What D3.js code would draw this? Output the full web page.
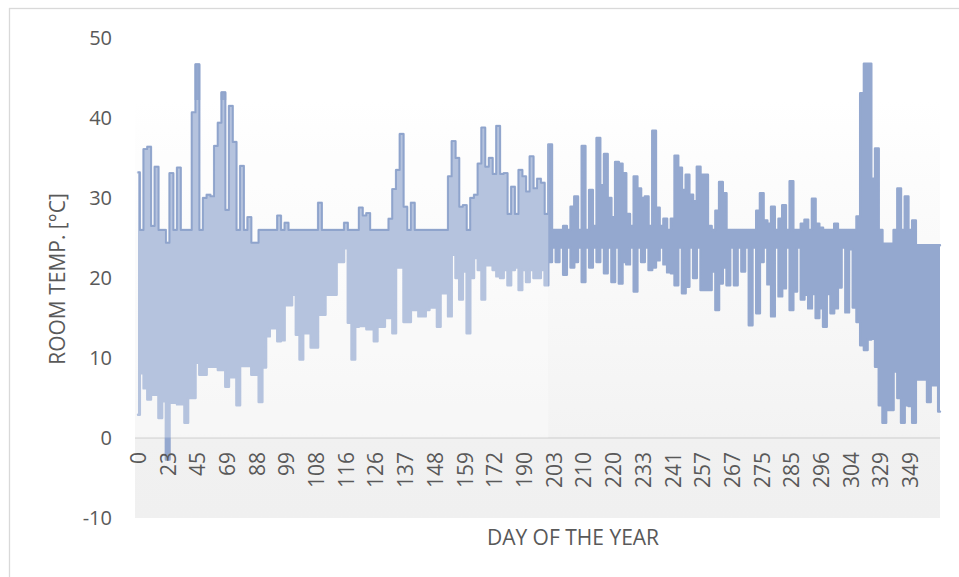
<!DOCTYPE html>
<html>
<head>
<meta charset="utf-8">
<script src="https://cdn.jsdelivr.net/npm/d3@7"></script>
<style>
  body { margin: 0; background: #ffffff; }
  text { font-family: "Open Sans", "Noto Sans", sans-serif; fill: #595959; }
</style>
</head>
<body>
<svg id="chart" width="959" height="577"></svg>
<script>
// Day-of-year labels shown along the category axis (one every `labelEvery` rows)
const dayLabels = [0, 23, 45, 69, 88, 99, 108, 116, 126, 137, 148, 159, 172, 190,
  203, 210, 220, 233, 241, 257, 267, 275, 285, 296, 304, 329, 349];
const labelEvery = 8;

// Upper envelope of room temperature per row [°C]
const tempHigh = [
  33.2, 26, 36.1, 36.4, 26.5, 33.9, 26, 26, 24.4, 33.1,
  26, 33.8, 26, 26, 26, 40.7, 46.7, 26, 30.0, 30.4,
  30.2, 36.5, 39.4, 43.2, 28.5, 41.5, 37.0, 26, 34.0, 26,
  27.6, 24.4, 24.4, 26, 26, 26, 26, 26, 27.8, 26,
  26.9, 26, 26, 26, 26, 26, 26, 26, 26, 29.4,
  26, 26, 26, 26, 26, 26, 26.9, 26, 26, 26,
  28.8, 27.8, 28.1, 26, 26, 26, 26, 26, 27.4, 31.1,
  33.5, 38.0, 28.9, 26, 29.4, 26, 26, 26, 26, 26,
  26, 26, 26, 26, 32.7, 37.1, 35, 28.9, 29.1, 26,
  30, 30.4, 34.3, 38.8, 33.9, 35, 33, 39, 33, 33.1,
  28, 31.4, 28, 33.5, 32.7, 30.8, 35.2, 31.2, 32.4, 31.9,
  28, 36.7, 26, 26, 26, 26.5, 26, 28.9, 30.2, 26,
  36.5, 26, 31, 26.5, 37.5, 31.6, 35.5, 30, 27.6, 34.5,
  34.3, 33.1, 28, 26.5, 32.7, 31.2, 30, 30.2, 26.5, 38.4,
  28.8, 26.5, 27.4, 26, 27.4, 35.3, 33.8, 31, 32.9, 30.4,
  29.6, 33.9, 32.9, 32.9, 26.5, 26, 28.4, 32, 30.6, 26,
  26, 26, 26, 26, 26, 26, 26, 28.4, 30.6, 27.2,
  26.8, 28.9, 26, 27.4, 29.1, 26, 32.1, 26, 26, 26.8,
  27.3, 26, 29.9, 26.8, 26.3, 26, 26, 26, 26.8, 26,
  26, 26, 26, 26, 27.7, 43.1, 46.8, 46.8, 32.4, 36.2,
  26, 24.3, 24.3, 24.3, 26, 31.2, 26, 30.2, 26, 27.2,
  24.1, 24.1, 24.1, 24.1, 24.1, 24.1, 24.1
];

// Lower envelope of room temperature per row [°C]
const tempLow = [
  2.9, 8.1, 6.2, 4.8, 5.4, 5.4, 2.5, 4.6, -2.7, 4.4,
  4.4, 4.2, 4.2, 1.9, 5, 5, 9.4, 7.9, 7.9, 8.9,
  8.9, 8.9, 8.5, 8.5, 6.4, 7.6, 7.6, 4.1, 9, 9,
  9, 7.9, 7.9, 4.5, 8.8, 12.7, 13.7, 13.7, 12.1, 12.2,
  16.6, 16.6, 17.9, 12.9, 9.8, 13.1, 13.1, 11.3, 11.3, 15.4,
  15.4, 17.9, 17.9, 17.9, 22, 22, 23.7, 14.4, 9.8, 13.9,
  14, 14, 13.6, 13.6, 12.1, 13.9, 13.9, 15, 15, 13.1,
  21.3, 21.3, 14.5, 14.5, 16, 16, 15.2, 15.2, 16, 16.3,
  16.3, 13.9, 18.1, 18.1, 15.2, 22.9, 20, 17.3, 20.8, 13.1,
  20, 22.5, 21, 17.3, 21.6, 21.6, 21, 20.2, 20, 21,
  19.1, 21, 21.3, 18.5, 21, 19.5, 21, 20, 20, 21,
  19.1, 22, 23.8, 22, 23.8, 20.4, 23.8, 21.3, 22, 23.8,
  19.5, 23.8, 21.3, 23.8, 22, 23.8, 20.6, 23.8, 19.5, 23.8,
  19.3, 22, 21.7, 23.8, 18.3, 23.8, 22, 23.8, 21, 21.3,
  22.2, 23.8, 21.7, 20.7, 20.6, 19.1, 23.8, 18.1, 18.9, 23.8,
  20, 23.8, 18.5, 18.5, 18.5, 20.8, 16, 19.3, 21.3, 19.1,
  23.8, 19.1, 23.8, 20.8, 23.8, 14.1, 23.8, 15.6, 22, 23.8,
  19.2, 15.2, 23.8, 17.7, 18.7, 23.8, 16, 18.3, 23.8, 17.3,
  17.9, 16.2, 18, 15, 16.2, 13.9, 18, 15.6, 16.2, 18.8,
  23.8, 15.7, 23.6, 16.3, 14.5, 11.6, 11, 12.3, 12.4, 8.9,
  4.1, 1.9, 3.5, 3.5, 8.3, 5, 1.9, 4.1, 4, 1.9,
  7.3, 7.3, 7.3, 4.5, 6.6, 6.6, 3.3
];

const yTicks = [-10, 0, 10, 20, 30, 40, 50];
// Last row of the first (lighter) part of the year
const firstPartEnd = 110;

const svg = d3.select("#chart");
const W = 959, H = 577;
const plot = { left: 135, right: 940, top: 38, bottom: 518, shadeTop: 100 };
const seriesColor = "#94a8cf";

const rows = tempHigh.map((h, i) => ({ i, hi: h, lo: tempLow[i] }));

const x = d3.scaleLinear().domain([0, rows.length - 1]).range([138, 940]);
const y = d3.scaleLinear().domain([-10, 50]).range([plot.bottom, plot.top]);

// chart frame
svg.append("rect")
  .attr("x", 9.5).attr("y", 8.5).attr("width", W).attr("height", H)
  .attr("fill", "#ffffff").attr("stroke", "#d9d9d9").attr("stroke-width", 1.3);

// plot background gradient
const defs = svg.append("defs");
const grad = defs.append("linearGradient").attr("id", "plotBg")
  .attr("x1", 0).attr("y1", 0).attr("x2", 0).attr("y2", 1);
grad.append("stop").attr("offset", "0%").attr("stop-color", "#ffffff");
grad.append("stop").attr("offset", "80%").attr("stop-color", "#f3f3f3");
grad.append("stop").attr("offset", "81%").attr("stop-color", "#f1f1f1");
grad.append("stop").attr("offset", "100%").attr("stop-color", "#f0f0f0");

svg.append("rect")
  .attr("x", plot.left).attr("y", plot.shadeTop)
  .attr("width", plot.right - plot.left).attr("height", plot.bottom - plot.shadeTop)
  .attr("fill", "url(#plotBg)");

// zero line
svg.append("line")
  .attr("x1", plot.left).attr("x2", plot.right)
  .attr("y1", y(0)).attr("y2", y(0))
  .attr("stroke", "#d9d9d9").attr("stroke-width", 1.5);

// temperature band
const area = d3.area()
  .x(d => x(d.i)).y0(d => y(d.lo)).y1(d => y(d.hi))
  .curve(d3.curveStep);
const hiLine = d3.line().x(d => x(d.i)).y(d => y(d.hi)).curve(d3.curveStep);
const loLine = d3.line().x(d => x(d.i)).y(d => y(d.lo)).curve(d3.curveStep);

svg.append("path").datum(rows).attr("d", area).attr("fill", seriesColor);
[hiLine, loLine].forEach(gen => {
  svg.append("path").datum(rows).attr("d", gen)
    .attr("fill", "none").attr("stroke", seriesColor)
    .attr("stroke-width", 2.4).attr("stroke-linejoin", "round").attr("stroke-linecap", "round");
});

// lighter wash over the first part of the year
const splitX = x(firstPartEnd + 0.5);
svg.append("rect")
  .attr("x", plot.left).attr("y", plot.shadeTop)
  .attr("width", splitX - plot.left).attr("height", y(0) - 0.5 - plot.shadeTop)
  .attr("fill", "#ffffff").attr("fill-opacity", 0.31);

// upper outline of the first part
defs.append("clipPath").attr("id", "firstPart")
  .append("rect").attr("x", 0).attr("y", 0).attr("width", splitX).attr("height", H);
svg.append("path").datum(rows).attr("d", hiLine)
  .attr("clip-path", "url(#firstPart)")
  .attr("fill", "none").attr("stroke", "#8fa4cc")
  .attr("stroke-width", 1.8).attr("stroke-linejoin", "round");

// y axis
const yAxis = svg.append("g")
  .attr("transform", `translate(${plot.left},0)`)
  .call(d3.axisLeft(y).tickValues(yTicks).tickFormat(d => String(d))
    .tickSize(0).tickPadding(23));
yAxis.select(".domain").remove();
yAxis.selectAll("text").attr("font-size", 20);

// x axis (rotated day labels)
const xAxis = svg.append("g")
  .attr("transform", `translate(0,${y(0)})`)
  .call(d3.axisBottom(x)
    .tickValues(dayLabels.map((d, j) => j * labelEvery))
    .tickFormat((d, j) => dayLabels[j])
    .tickSize(0));
xAxis.select(".domain").remove();
xAxis.selectAll("text")
  .attr("font-size", 21)
  .attr("transform", "rotate(-90)")
  .attr("text-anchor", "end")
  .attr("x", -14).attr("y", 0).attr("dy", "0.35em");

// axis titles
svg.append("text")
  .attr("transform", "translate(65,279) rotate(-90)")
  .attr("text-anchor", "middle").attr("font-size", 21)
  .text("ROOM TEMP. [°C]");
svg.append("text")
  .attr("x", 573).attr("y", 545)
  .attr("text-anchor", "middle").attr("font-size", 21)
  .text("DAY OF THE YEAR");
</script>
</body>
</html>
